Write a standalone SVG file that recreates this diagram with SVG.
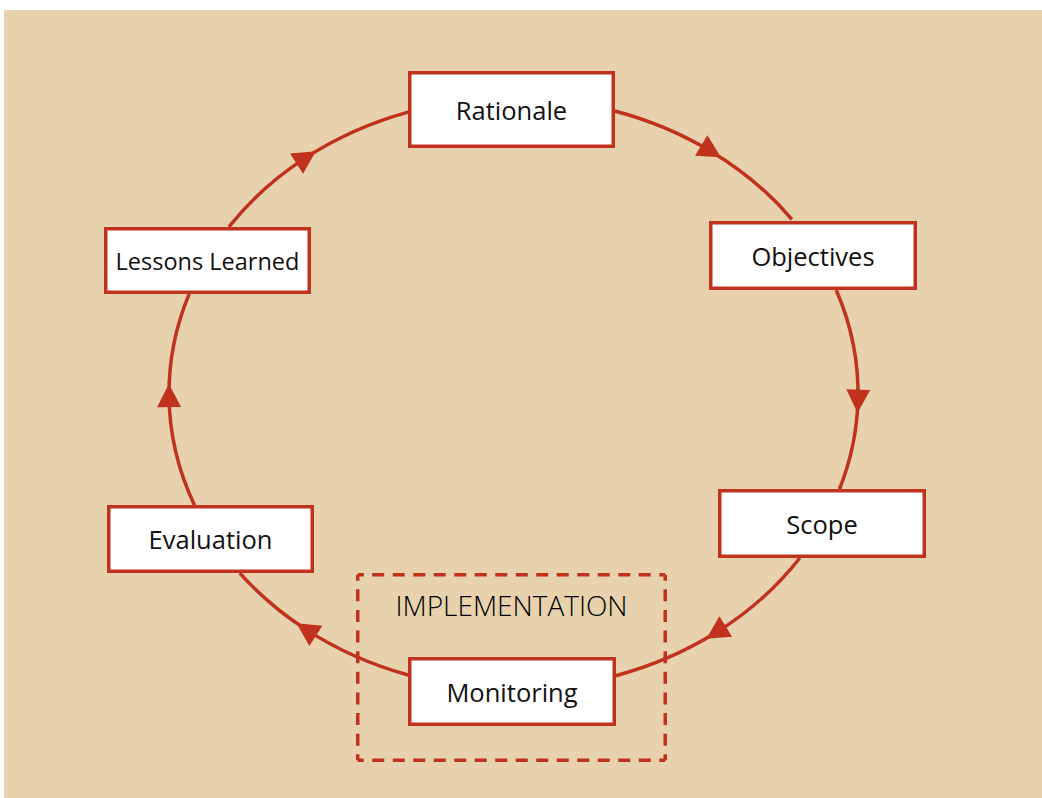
<svg xmlns="http://www.w3.org/2000/svg" width="1042" height="798" viewBox="0 0 1042 798">
  <style>
    .bg { fill: #E8D1AD; }
    .box { fill: #FFFFFF; stroke: #C0321D; stroke-width: 3.5; }
    .lbl { font-family: "Open Sans", "Noto Sans", "Liberation Sans", sans-serif; font-size: 25.5px; fill: #111111; text-anchor: middle; }
    .conn { fill: none; stroke: #C0321D; stroke-width: 3.5; marker-mid: url(#arrow); }
    .dash { stroke: #C0321D; stroke-width: 3.5; fill: none; }
    .impl { font-family: "Open Sans", "Noto Sans", "Liberation Sans", sans-serif; font-weight: 300; font-size: 28px; fill: #000000; text-anchor: middle; }
  </style>
  <defs>
    <marker id="arrow" markerUnits="userSpaceOnUse" markerWidth="23" markerHeight="24" refX="11.5" refY="12" orient="auto" overflow="visible">
      <path d="M0,0 L23,12 L0,24 Z" fill="#C0321D"/>
    </marker>
  </defs>
  <rect class="bg" x="4" y="10" width="1038" height="788"/>

  <g id="connectors">
    <path class="conn" d="M614.8,111.0 A344.5,295.6 0 0 1 711.1,151.4 A344.5,295.6 0 0 1 791.9,219.3"/>
    <path class="conn" d="M836.2,290.0 A344.5,295.6 0 0 1 857.9,401.2 A344.5,295.6 0 0 1 839.5,489.0"/>
    <path class="conn" d="M799.8,558.0 A344.5,295.6 0 0 1 716.0,632.6 A344.5,295.6 0 0 1 615.9,675.7"/>
    <path class="conn" d="M408.2,675.0 A344.5,295.6 0 0 1 306.2,629.6 A344.5,295.6 0 0 1 239.8,573.1"/>
    <path class="conn" d="M194.5,505.2 A344.5,295.6 0 0 1 169.0,395.6 A344.5,295.6 0 0 1 189.2,293.9"/>
    <path class="conn" d="M228.9,226.9 A344.5,295.6 0 0 1 306.2,157.4 A344.5,295.6 0 0 1 408.2,112.1"/>
  </g>

  <g id="implementation">
    <line class="dash" x1="357.75" y1="574.75" x2="665.25" y2="574.75" stroke-dasharray="12 8.5" stroke-dashoffset="6"/>
    <line class="dash" x1="357.75" y1="760.25" x2="665.25" y2="760.25" stroke-dasharray="12 8.5" stroke-dashoffset="6"/>
    <line class="dash" x1="357.75" y1="574.75" x2="357.75" y2="760.25" stroke-dasharray="12 8.61" stroke-dashoffset="6"/>
    <line class="dash" x1="665.25" y1="574.75" x2="665.25" y2="760.25" stroke-dasharray="12 8.61" stroke-dashoffset="6"/>
    <text class="impl" x="511.5" y="615.5">IMPLEMENTATION</text>
  </g>

  <g id="rationale">
    <rect class="box" x="409.75" y="72.75" width="203.5" height="73.5"/>
    <text class="lbl" x="511.5" y="120">Rationale</text>
  </g>
  <g id="objectives">
    <rect class="box" x="710.75" y="222.75" width="204.5" height="65.5"/>
    <text class="lbl" x="813" y="265.5">Objectives</text>
  </g>
  <g id="scope">
    <rect class="box" x="719.75" y="490.75" width="204.5" height="65.5"/>
    <text class="lbl" x="822" y="533.5">Scope</text>
  </g>
  <g id="monitoring">
    <rect class="box" x="409.75" y="658.75" width="204.5" height="65.5"/>
    <text class="lbl" x="512" y="701.5">Monitoring</text>
  </g>
  <g id="evaluation">
    <rect class="box" x="108.75" y="506.75" width="203.5" height="64.5"/>
    <text class="lbl" x="210.5" y="549">Evaluation</text>
  </g>
  <g id="lessons-learned">
    <rect class="box" x="105.75" y="228.75" width="203.5" height="63.5"/>
    <text class="lbl" x="207.5" y="269.5" style="font-size:23.5px">Lessons Learned</text>
  </g>
</svg>
